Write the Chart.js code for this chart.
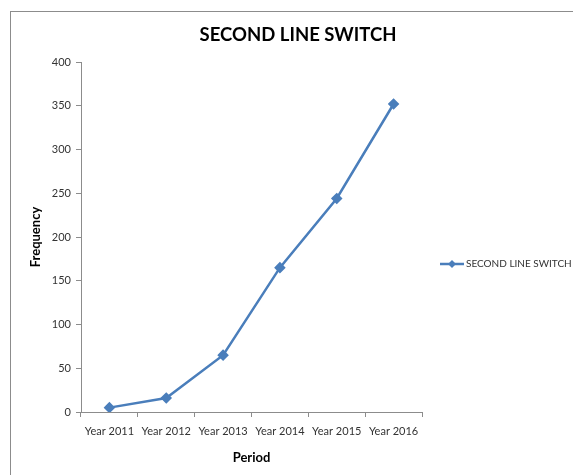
<!DOCTYPE html>
<html>
<head>
<meta charset="utf-8">
<script src="https://cdn.jsdelivr.net/npm/chart.js@4/dist/chart.umd.min.js"></script>
<style>
	body { margin: 0; background: #fff; }
	#frame { position: absolute; left: 10px; top: 11px; width: 600px; height: 500px; border-left: 1px solid #8c8c8c; border-top: 1px solid #8c8c8c; }
	#wrap { position: absolute; left: 0; top: 0; width: 573px; height: 475px; }
</style>
</head>
<body>
<div id="frame"></div>
<div id="wrap"><canvas id="chart-second-line"></canvas></div>
<script>
	// values
	var periods = ["Year 2011", "Year 2012", "Year 2013", "Year 2014", "Year 2015", "Year 2016"];
	var switchCounts = [5, 16, 65, 165, 244, 352];
	var seriesName = "SECOND LINE SWITCH";
	var chartTitle = "SECOND LINE SWITCH";
	var yTicks = { min: 0, max: 400, step: 50 };

	var lineBlue = "#4a7ebb";
	var fontFamily = "Lato, 'Open Sans', sans-serif";

	// title centred on the whole frame, not only the plot
	var frameTitle = {
		id: "frameTitle",
		afterDraw: function(chart)
		{
			let ctx = chart.ctx;
			ctx.save();
			ctx.fillStyle = "#000";
			ctx.font = "bold 18.5px " + fontFamily;
			ctx.textAlign = "center";
			ctx.textBaseline = "middle";
			ctx.fillText(chartTitle, 298, 35);
			ctx.restore();
		}
	};

	// legend drawn by hand: line with a diamond, to the right of the plot
	var sideLegend = {
		id: "sideLegend",
		afterDraw: function(chart)
		{
			let ctx = chart.ctx;
			let ds = chart.data.datasets[0];
			let y = (chart.chartArea.top + chart.chartArea.bottom) / 2 + 27;
			let x0 = 440;
			ctx.save();
			ctx.strokeStyle = ds.borderColor;
			ctx.lineWidth = 2.5;
			ctx.beginPath();
			ctx.moveTo(x0, y);
			ctx.lineTo(x0 + 24, y);
			ctx.stroke();
			ctx.fillStyle = ds.borderColor;
			ctx.beginPath();
			ctx.moveTo(x0 + 12, y - 4);
			ctx.lineTo(x0 + 16, y);
			ctx.lineTo(x0 + 12, y + 4);
			ctx.lineTo(x0 + 8, y);
			ctx.closePath();
			ctx.fill();
			ctx.fillStyle = "#333";
			ctx.font = "10px " + fontFamily;
			ctx.textBaseline = "middle";
			ctx.fillText(ds.label, x0 + 26, y);
			ctx.restore();
		}
	};

	new Chart("chart-second-line", {
		type: "line",
		data: {
			labels: periods,
			datasets: [{
				label: seriesName,
				data: switchCounts,
				borderColor: lineBlue,
				backgroundColor: lineBlue,
				borderWidth: 2.5,
				pointStyle: "rectRot",
				pointRadius: 4,
				pointHoverRadius: 4,
				tension: 0
			}]
		},
		options: {
			responsive: true,
			maintainAspectRatio: false,
			animation: false,
			layout: { padding: { left: 24, right: 151, top: 62, bottom: 0 } },
			plugins: {
				legend: { display: false },
				tooltip: { enabled: false },
				title: { display: false }
			},
			scales: {
				x: {
					offset: true,
					grid: { offset: true, drawOnChartArea: false, drawTicks: true, tickLength: 5, color: "#8c8c8c" },
					border: { color: "#8c8c8c" },
					ticks: { color: "#333", font: { family: fontFamily, size: 11 }, maxRotation: 0, padding: 8 },
					title: { display: true, text: "Period", color: "#000", font: { family: fontFamily, size: 13, weight: "bold" }, padding: { top: 5, bottom: 9 } },
					afterFit: function(scale) { scale.height = 63; }
				},
				y: {
					min: yTicks.min,
					max: yTicks.max,
					grid: { drawOnChartArea: false, drawTicks: true, tickLength: 5, color: "#8c8c8c" },
					border: { color: "#8c8c8c" },
					ticks: { stepSize: yTicks.step, color: "#333", font: { family: fontFamily, size: 11 }, padding: 5 },
					title: { display: true, text: "Frequency", color: "#000", font: { family: fontFamily, size: 13, weight: "bold" }, padding: { bottom: 12 } },
					afterFit: function(scale) { scale.width = 57; }
				}
			}
		},
		plugins: [frameTitle, sideLegend]
	});
</script>
</body>
</html>
